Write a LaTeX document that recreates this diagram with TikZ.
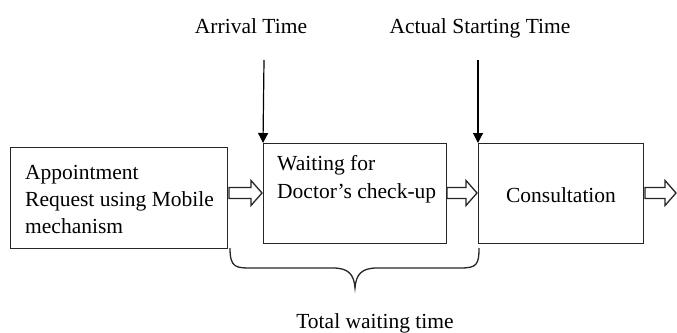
\documentclass[tikz,border=0pt]{standalone}
\usepackage{fontspec}
\setmainfont{Liberation Serif}
\usetikzlibrary{arrows.meta,calc}

% hollow block arrow: from x=#1 to x=#2 at height #3
\newcommand\hollowarrow[3]{%
  \draw[linepen,line join=miter]
    (#1,#3-5.5) -- ($(#2,#3-5.5)+(-11,0)$) -- ($(#2,#3-12.5)+(-11,0)$)
    -- (#2,#3) -- ($(#2,#3+12.5)+(-11,0)$) -- ($(#2,#3+5.5)+(-11,0)$)
    -- (#1,#3+5.5) -- cycle;}

\tikzset{
  linepen/.style={draw=black!85,line width=1.3pt},
  stagebox/.style={linepen,rectangle,inner sep=0pt,anchor=north west},
  txt/.style={inner sep=0pt,font=\fontsize{21.5}{26}\selectfont},
  timearrow/.style={draw=black,line width=1.2pt,-{Triangle[length=10pt,width=10pt]}}
}

\begin{document}
\begin{tikzpicture}[x=1pt,y=-1pt]
\useasboundingbox (0,0) rectangle (677,332);

% process stages
\node[stagebox,minimum width=217pt,minimum height=101pt] (b1) at (10,147) {};
\node[stagebox,minimum width=183pt,minimum height=100pt] (b2) at (263,143) {};
\node[stagebox,minimum width=165pt,minimum height=100pt] (b3) at (478,143) {};

% stage texts
\node[txt,anchor=base west] (t1a) at (25,179) {Appointment};
\node[txt,anchor=base west] (t1b) at (25,206) {Request using Mobile};
\node[txt,anchor=base west] (t1c) at (25,233) {mechanism};
\node[txt,anchor=base west] (t2a) at (277,170) {Waiting for};
\node[txt,anchor=base west] (t2b) at (277,198) {Doctor’s check-up};
\node[txt,anchor=base] (t3) at (561,202) {Consultation};

% flow between stages
\hollowarrow{229}{262}{193}
\hollowarrow{447}{477}{193}
\hollowarrow{645}{676}{193}

% time markers
\node[txt,anchor=base] (arr) at (251,33) {Arrival Time};
\node[txt,anchor=base] (act) at (480,33) {Actual Starting Time};
\coordinate (arrtop) at (264,60);
\coordinate (acttop) at (478,60);
\draw[timearrow] (arrtop) -- (b2.north west);
\draw[timearrow] (acttop) -- (b3.north west);

% brace over the waiting period
\coordinate (bl) at (230,248);
\coordinate (br) at (479,248);
\coordinate (tip) at (355,288);
\draw[linepen]
  (bl) .. controls (230,268) and (236,268) .. (252,268)
  -- (333,268) .. controls (348,268) and (354,274) .. (tip)
  .. controls (356,274) and (362,268) .. (377,268)
  -- (461,268) .. controls (477,268) and (479,264) .. (br);
\node[txt,anchor=base] (tot) at (375,328) {Total waiting time};
\end{tikzpicture}
\end{document}
